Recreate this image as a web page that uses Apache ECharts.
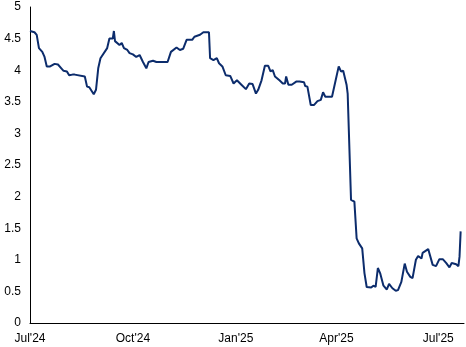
<!DOCTYPE html>
<html>
<head>
<meta charset="utf-8">
<script src="https://cdn.jsdelivr.net/npm/echarts@6/dist/echarts.min.js"></script>
<style>html,body{margin:0;padding:0;background:#fff}#c{width:466px;height:347px}</style>
</head>
<body>
<div id="c"></div>
<script>
var dates = ['2024-07-01','2024-07-05','2024-07-07','2024-07-09','2024-07-12','2024-07-14','2024-07-16','2024-07-19','2024-07-23','2024-07-26','2024-07-29','2024-07-31','2024-08-03','2024-08-05','2024-08-08','2024-08-10','2024-08-11','2024-08-19','2024-08-21','2024-08-23','2024-08-27','2024-08-29','2024-08-31','2024-09-02','2024-09-08','2024-09-10','2024-09-13','2024-09-14','2024-09-15','2024-09-16','2024-09-19','2024-09-21','2024-09-23','2024-09-26','2024-09-28','2024-10-01','2024-10-04','2024-10-07','2024-10-10','2024-10-13','2024-10-15','2024-10-19','2024-10-22','2024-11-01','2024-11-04','2024-11-09','2024-11-12','2024-11-15','2024-11-18','2024-11-23','2024-11-25','2024-11-30','2024-12-03','2024-12-08','2024-12-09','2024-12-12','2024-12-15','2024-12-17','2024-12-20','2024-12-23','2024-12-27','2024-12-30','2025-01-02','2025-01-06','2025-01-10','2025-01-13','2025-01-16','2025-01-19','2025-01-21','2025-01-24','2025-01-27','2025-01-30','2025-02-01','2025-02-03','2025-02-05','2025-02-09','2025-02-12','2025-02-14','2025-02-15','2025-02-17','2025-02-20','2025-02-24','2025-02-27','2025-03-03','2025-03-04','2025-03-06','2025-03-09','2025-03-12','2025-03-15','2025-03-18','2025-03-20','2025-03-22','2025-03-28','2025-04-01','2025-04-03','2025-04-05','2025-04-07','2025-04-10','2025-04-11','2025-04-14','2025-04-17','2025-04-19','2025-04-21','2025-04-24','2025-04-26','2025-04-28','2025-05-02','2025-05-04','2025-05-06','2025-05-08','2025-05-10','2025-05-13','2025-05-16','2025-05-18','2025-05-21','2025-05-24','2025-05-26','2025-05-29','2025-06-01','2025-06-03','2025-06-06','2025-06-08','2025-06-11','2025-06-13','2025-06-14','2025-06-16','2025-06-17','2025-06-22','2025-06-26','2025-06-29','2025-07-02','2025-07-05','2025-07-08','2025-07-11','2025-07-13','2025-07-17','2025-07-19','2025-07-20','2025-07-21'];
var values = [4.62,4.60,4.56,4.35,4.29,4.21,4.06,4.06,4.10,4.09,4.03,3.99,3.98,3.92,3.93,3.93,3.90,3.90,3.74,3.73,3.62,3.69,4.03,4.19,4.35,4.50,4.50,4.62,4.46,4.43,4.40,4.43,4.35,4.32,4.27,4.25,4.21,4.24,4.13,4.03,4.13,4.15,4.13,4.13,4.29,4.36,4.32,4.34,4.48,4.48,4.53,4.56,4.60,4.60,4.19,4.16,4.19,4.11,4.06,3.92,3.91,3.79,3.84,3.77,3.70,3.79,3.78,3.63,3.69,3.84,4.07,4.07,3.98,4.00,3.90,3.84,3.79,3.79,3.90,3.77,3.77,3.82,3.82,3.81,3.75,3.74,3.45,3.45,3.51,3.53,3.65,3.58,3.58,3.90,4.06,3.98,3.99,3.77,3.63,1.95,1.92,1.34,1.26,1.18,0.79,0.57,0.56,0.59,0.57,0.87,0.79,0.59,0.53,0.62,0.55,0.51,0.52,0.65,0.94,0.81,0.73,0.71,1.00,1.06,1.09,1.02,1.11,1.17,0.92,0.90,1.01,1.01,0.95,0.88,0.95,0.93,0.90,1.05,1.45];
var tickDates = ['2024-07-01','2024-10-01','2025-01-01','2025-04-01','2025-07-01'];
var tickLabels = ["Jul'24","Oct'24","Jan'25","Apr'25","Jul'25"];
var xMin = '2024-07-01', xMax = '2025-07-24';

function ts(d){ return Date.parse(d + 'T00:00:00Z'); }
var tickTimes = tickDates.map(ts);
var seriesData = dates.map(function(d, i){ return [ts(d), values[i]]; });

var chart = echarts.init(document.getElementById('c'), null, {renderer: 'canvas'});
var font = '"Liberation Sans", Arial, sans-serif';
chart.setOption({
  animation: false,
  backgroundColor: '#fff',
  grid: {left: 30, right: 2, top: 7, bottom: 24, containLabel: false},
  xAxis: {
    type: 'value',
    min: ts(xMin),
    max: ts(xMax),
    axisLine: {show: true, lineStyle: {color: '#000', width: 1}},
    axisTick: {show: false},
    splitLine: {show: false},
    axisLabel: {
      customValues: tickTimes,
      margin: 10,
      color: '#000',
      fontSize: 12,
      fontFamily: font,
      hideOverlap: false,
      showMinLabel: true,
      formatter: function(v){
        var best = -1, bd = Infinity;
        for (var k = 0; k < tickTimes.length; k++) { var d = Math.abs(tickTimes[k] - v); if (d < bd) { bd = d; best = k; } }
        return (best >= 0 && bd < 86400000) ? tickLabels[best] : '';
      }
    }
  },
  yAxis: {
    type: 'value',
    min: 0, max: 5, interval: 0.5,
    axisLine: {show: true, lineStyle: {color: '#000', width: 1}},
    axisTick: {show: false},
    splitLine: {show: false},
    axisLabel: {color: '#000', fontSize: 12, fontFamily: font, margin: 9}
  },
  series: [{
    type: 'line',
    data: seriesData,
    showSymbol: false,
    symbol: 'none',
    lineStyle: {color: '#0c2c6c', width: 2},
    itemStyle: {color: '#0c2c6c'}
  }]
});
</script>
</body>
</html>
